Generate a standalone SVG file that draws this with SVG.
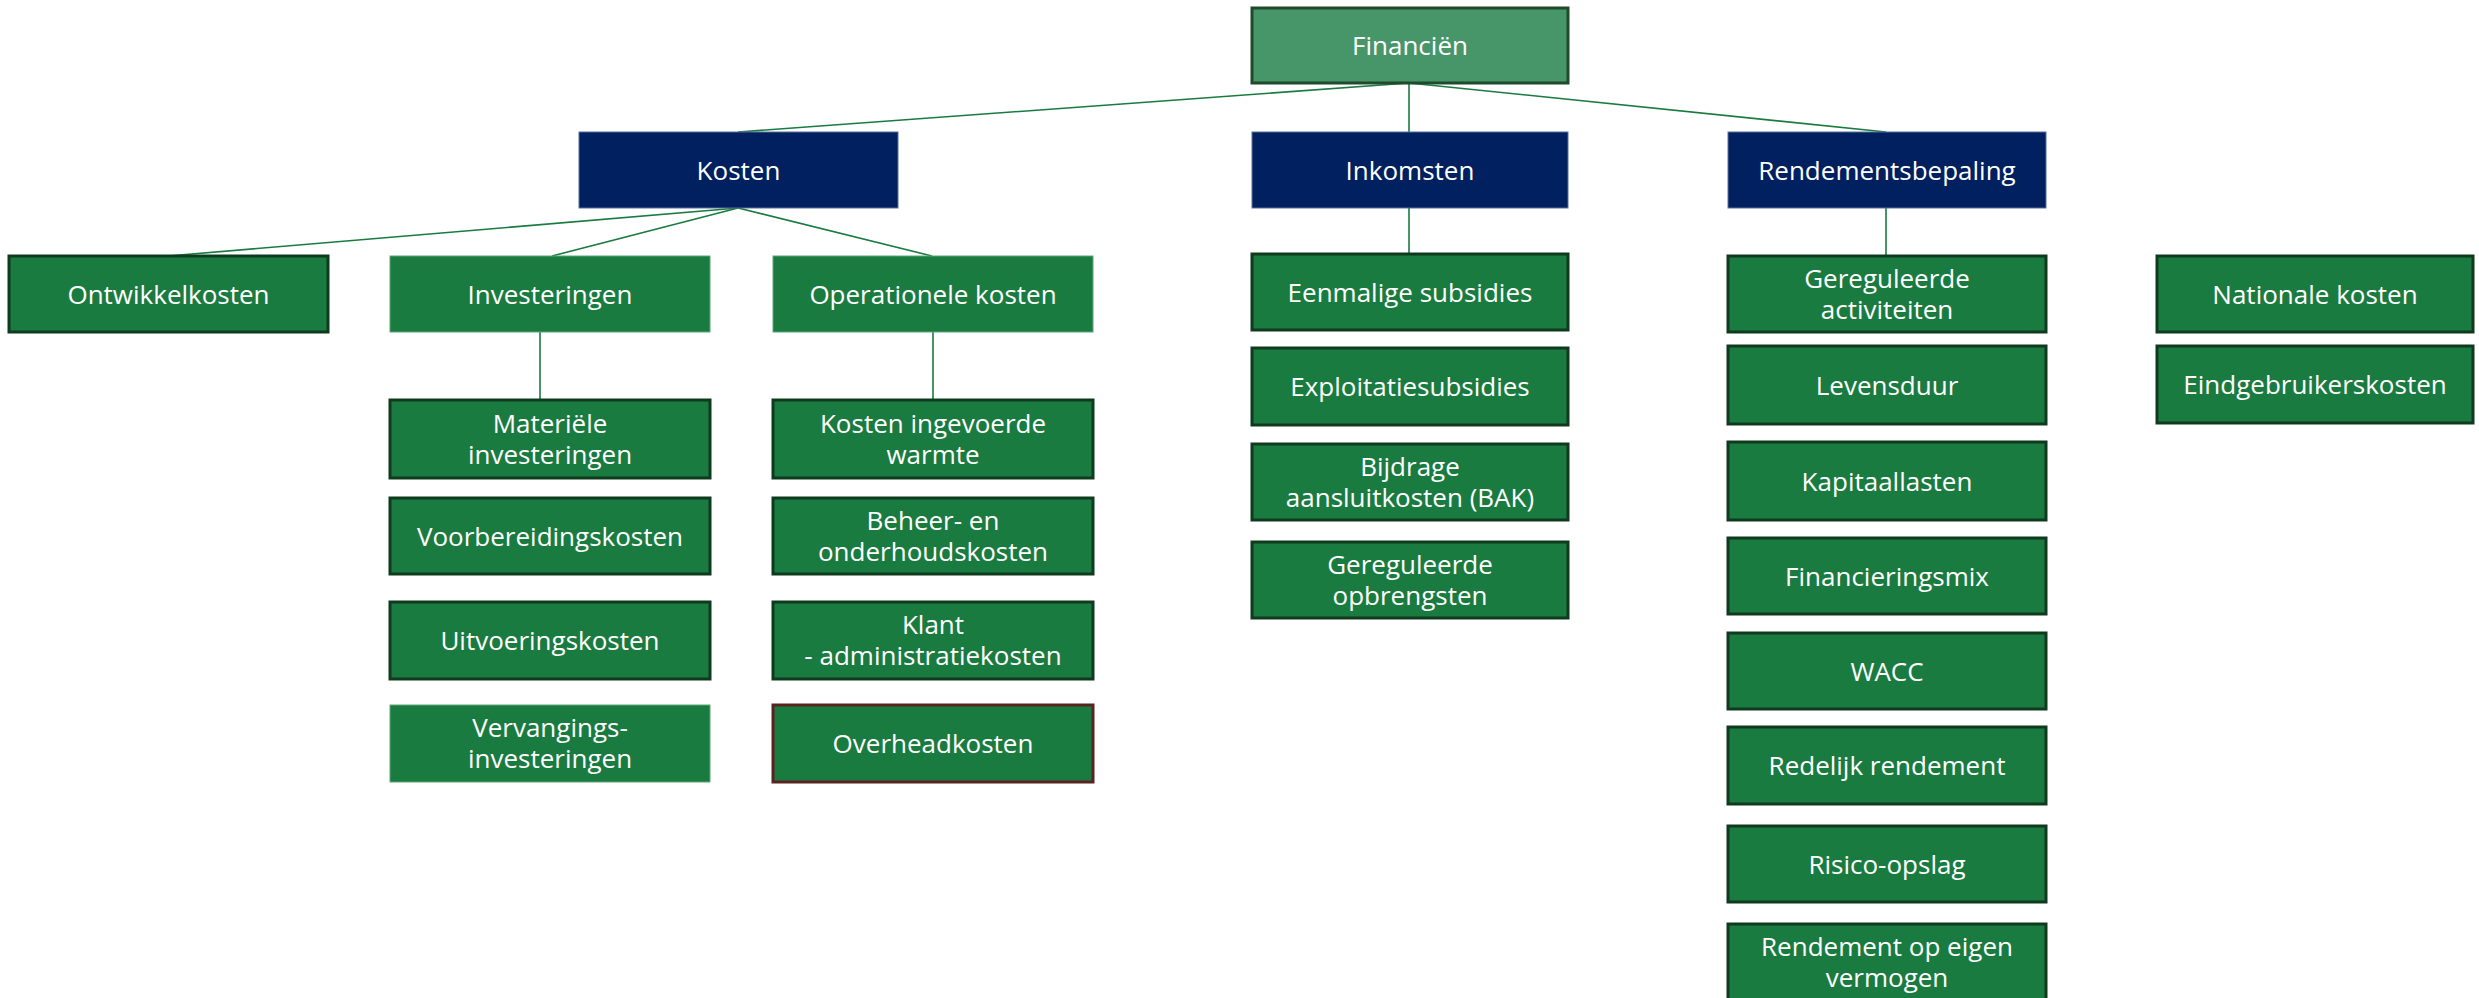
<svg xmlns="http://www.w3.org/2000/svg" width="2479" height="998" viewBox="0 0 2479 998">
<style>
.g{fill:#1A7B40;stroke:#0F3A1E;stroke-width:3}
.gl{fill:#1A7B40;stroke:#5FA57A;stroke-width:1}
.oh{fill:#1A7B40;stroke:#5A2320;stroke-width:3}
.fin{fill:#47966A;stroke:#1F4A2C;stroke-width:3}
.nav{fill:#002060;stroke:#5A6F9A;stroke-width:1}
text{font-family:"Open Sans","Noto Sans","DejaVu Sans",sans-serif;font-size:26px;fill:#FFFFFF;text-anchor:middle}
.c line{stroke:#1A7B40;stroke-width:1.6}
</style>
<rect width="2479" height="998" fill="#FFFFFF"/>
<g class="c" id="connectors">
<line x1="1409" y1="83" x2="738" y2="132"/>
<line x1="1409" y1="83" x2="1409" y2="132"/>
<line x1="1409" y1="83" x2="1886" y2="132"/>
<line x1="738" y1="208" x2="168" y2="256"/>
<line x1="738" y1="208" x2="552" y2="256"/>
<line x1="738" y1="208" x2="932" y2="256"/>
<line x1="540" y1="332" x2="540" y2="400"/>
<line x1="933" y1="332" x2="933" y2="400"/>
<line x1="1409" y1="208" x2="1409" y2="254"/>
<line x1="1886" y1="208" x2="1886" y2="256"/>
</g>
<g id="n-financien"><rect class="fin" x="1252" y="8" width="316" height="75"/><text x="1410" y="55">Financiën</text></g>
<g id="n-kosten"><rect class="nav" x="579" y="132" width="319" height="76"/><text x="738.5" y="179.5">Kosten</text></g>
<g id="n-inkomsten"><rect class="nav" x="1252" y="132" width="316" height="76"/><text x="1410" y="179.5">Inkomsten</text></g>
<g id="n-rendementsbepaling"><rect class="nav" x="1728" y="132" width="318" height="76"/><text x="1887" y="179.5">Rendementsbepaling</text></g>
<g id="n-ontwikkelkosten"><rect class="g" x="9" y="256" width="319" height="76"/><text x="168.5" y="303.5">Ontwikkelkosten</text></g>
<g id="n-investeringen"><rect class="gl" x="390" y="256" width="320" height="76"/><text x="550" y="303.5">Investeringen</text></g>
<g id="n-operationele"><rect class="gl" x="773" y="256" width="320" height="76"/><text x="933" y="303.5">Operationele kosten</text></g>
<g id="n-materiele"><rect class="g" x="390" y="400" width="320" height="78"/><text x="550" y="433">Materiële<tspan x="550" dy="31">investeringen</tspan></text></g>
<g id="n-voorbereiding"><rect class="g" x="390" y="498" width="320" height="76"/><text x="550" y="545.5">Voorbereidingskosten</text></g>
<g id="n-uitvoering"><rect class="g" x="390" y="602" width="320" height="77"/><text x="550" y="650">Uitvoeringskosten</text></g>
<g id="n-vervanging"><rect class="gl" x="390" y="705" width="320" height="77"/><text x="550" y="737">Vervangings-<tspan x="550" dy="31">investeringen</tspan></text></g>
<g id="n-ingevoerde"><rect class="g" x="773" y="400" width="320" height="78"/><text x="933" y="433">Kosten ingevoerde<tspan x="933" dy="31">warmte</tspan></text></g>
<g id="n-beheer"><rect class="g" x="773" y="498" width="320" height="76"/><text x="933" y="530">Beheer- en<tspan x="933" dy="31">onderhoudskosten</tspan></text></g>
<g id="n-klant"><rect class="g" x="773" y="602" width="320" height="77"/><text x="933" y="634">Klant<tspan x="933" dy="31">- administratiekosten</tspan></text></g>
<g id="n-overhead"><rect class="oh" x="773" y="705" width="320" height="77"/><text x="933" y="753">Overheadkosten</text></g>
<g id="n-eenmalige"><rect class="g" x="1252" y="254" width="316" height="76"/><text x="1410" y="301.5">Eenmalige subsidies</text></g>
<g id="n-exploitatie"><rect class="g" x="1252" y="348" width="316" height="77"/><text x="1410" y="396">Exploitatiesubsidies</text></g>
<g id="n-bijdrage"><rect class="g" x="1252" y="444" width="316" height="76"/><text x="1410" y="476">Bijdrage<tspan x="1410" dy="31">aansluitkosten (BAK)</tspan></text></g>
<g id="n-opbrengsten"><rect class="g" x="1252" y="542" width="316" height="76"/><text x="1410" y="574">Gereguleerde<tspan x="1410" dy="31">opbrengsten</tspan></text></g>
<g id="n-activiteiten"><rect class="g" x="1728" y="256" width="318" height="76"/><text x="1887" y="288">Gereguleerde<tspan x="1887" dy="31">activiteiten</tspan></text></g>
<g id="n-levensduur"><rect class="g" x="1728" y="346" width="318" height="78"/><text x="1887" y="394.5">Levensduur</text></g>
<g id="n-kapitaallasten"><rect class="g" x="1728" y="442" width="318" height="78"/><text x="1887" y="490.5">Kapitaallasten</text></g>
<g id="n-financieringsmix"><rect class="g" x="1728" y="538" width="318" height="76"/><text x="1887" y="585.5">Financieringsmix</text></g>
<g id="n-wacc"><rect class="g" x="1728" y="633" width="318" height="76"/><text x="1887" y="680.5">WACC</text></g>
<g id="n-redelijk"><rect class="g" x="1728" y="727" width="318" height="77"/><text x="1887" y="775">Redelijk rendement</text></g>
<g id="n-risico"><rect class="g" x="1728" y="826" width="318" height="76"/><text x="1887" y="873.5">Risico-opslag</text></g>
<g id="n-eigen-vermogen"><rect class="g" x="1728" y="924" width="318" height="77"/><text x="1887" y="956">Rendement op eigen<tspan x="1887" dy="31">vermogen</tspan></text></g>
<g id="n-nationale"><rect class="g" x="2157" y="256" width="316" height="76"/><text x="2315" y="303.5">Nationale kosten</text></g>
<g id="n-eindgebruikers"><rect class="g" x="2157" y="346" width="316" height="77"/><text x="2315" y="394">Eindgebruikerskosten</text></g>
</svg>
